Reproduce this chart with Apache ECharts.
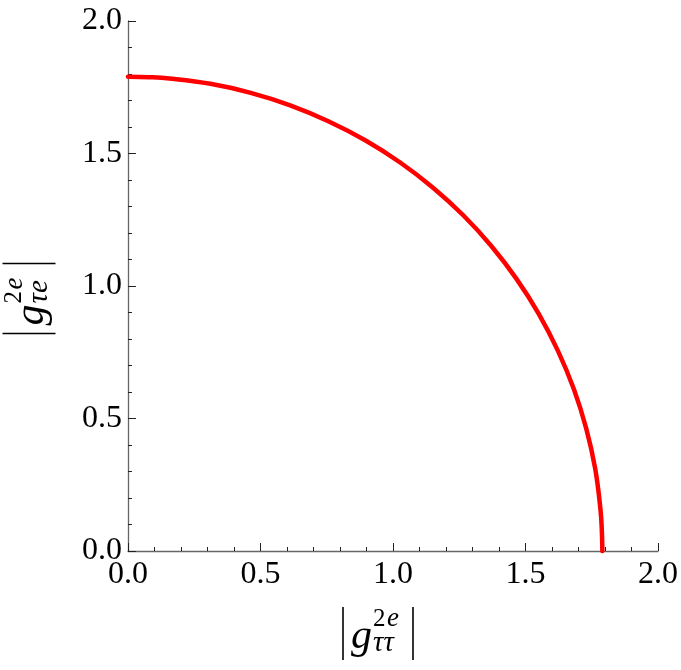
<!DOCTYPE html>
<html lang="en">

<head>
    <meta charset="UTF-8">
    <title>g2e curve</title>
    <script src="https://cdnjs.cloudflare.com/ajax/libs/echarts/6.0.0/echarts.min.js"></script>
    <style>
        html, body { margin: 0; padding: 0; background: #fff; }
    </style>
</head>

<body>
    <div id="main" style="width: 681px;height:670px;"></div>

    <script>
        // points: |g_tautau| (x) vs |g_taue| (y)
        const curveX = [0.000, 0.078, 0.156, 0.311, 0.463, 0.612, 0.756, 0.895, 1.027, 1.151,
            1.266, 1.371, 1.466, 1.550, 1.622, 1.682, 1.729, 1.763, 1.783, 1.788, 1.790];
        const curveY = [1.790, 1.788, 1.783, 1.763, 1.729, 1.682, 1.622, 1.550, 1.466, 1.371,
            1.266, 1.151, 1.027, 0.895, 0.756, 0.612, 0.463, 0.311, 0.156, 0.078, 0.000];
        const xTicks = [0, 0.5, 1.0, 1.5, 2.0];
        const yTicks = [0, 0.5, 1.0, 1.5, 2.0];

        const chart = echarts.init(document.getElementById('main'));
        const serif = '"Liberation Serif", "Times New Roman", serif';

        // |g^{2e}_{sub}| drawn around (cx, cy), rotated by rot
        function absLabel(sub, cx, cy, rot) {
            return {
                type: 'group',
                x: cx,
                y: cy,
                rotation: rot,
                children: [
                    { type: 'line', shape: { x1: -35, y1: -26.5, x2: -35, y2: 26.5 }, style: { stroke: '#000', lineWidth: 1.6 } },
                    { type: 'line', shape: { x1: 35, y1: -26.5, x2: 35, y2: 26.5 }, style: { stroke: '#000', lineWidth: 1.6 } },
                    { type: 'text', style: { text: 'g', x: -27, y: 3, font: 'italic 42px ' + serif, fill: '#000', verticalAlign: 'middle' } },
                    { type: 'text', style: { text: '2', x: -5, y: -14.5, font: '25px ' + serif, fill: '#000', verticalAlign: 'middle' } },
                    { type: 'text', style: { text: 'e', x: 9, y: -14.5, font: 'italic 27px ' + serif, fill: '#000', verticalAlign: 'middle' } },
                    { type: 'text', style: { text: sub, x: -5, y: 10, font: 'italic 29px ' + serif, fill: '#000', verticalAlign: 'middle' } }
                ]
            };
        }

        function fmt(v) {
            return v.toFixed(1);
        }

        const axisCommon = {
            type: 'value',
            min: 0,
            max: 2,
            interval: 0.5,
            axisLine: { show: true, lineStyle: { color: '#666', width: 1.3 } },
            axisTick: { show: true, inside: true, length: 8, lineStyle: { color: '#222', width: 1 } },
            minorTick: { show: true, splitNumber: 5, length: 4, lineStyle: { color: '#222', width: 1 } },
            splitLine: { show: false },
            axisLabel: {
                fontFamily: serif,
                fontSize: 32,
                color: '#000',
                formatter: fmt
            }
        };

        const option = {
            animation: false,
            grid: { left: 128, right: 23, top: 21, bottom: 119, containLabel: false },
            xAxis: Object.assign({}, axisCommon, {
                axisLabel: Object.assign({}, axisCommon.axisLabel, { margin: 8, showMaxLabel: true })
            }),
            yAxis: Object.assign({}, axisCommon, {
                axisLabel: Object.assign({}, axisCommon.axisLabel, { margin: 6 })
            }),
            series: [
                {
                    type: 'line',
                    data: curveX.map((x, i) => [x, curveY[i]]),
                    smooth: 0.4,
                    showSymbol: false,
                    clip: false,
                    lineStyle: { color: '#ff0000', width: 4.5, cap: 'round' }
                }
            ],
            graphic: [
                absLabel('\u03c4\u03c4', 378, 633.5, 0),
                absLabel('\u03c4e', 29, 298.5, Math.PI / 2)
            ]
        };

        chart.setOption(option);
    </script>
</body>

</html>
